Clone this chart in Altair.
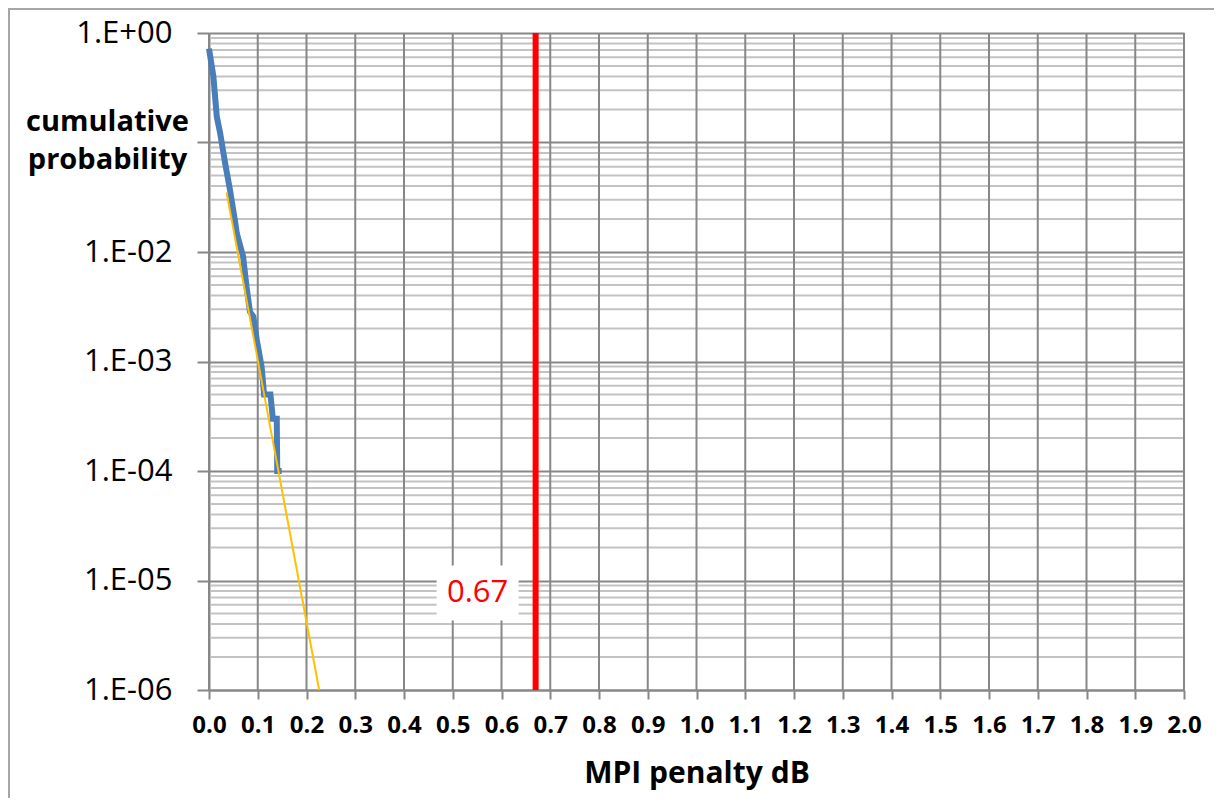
import altair as alt
import pandas as pd

# measured cumulative probability (blue)
blue_x = [0.000, 0.009, 0.016, 0.023, 0.033, 0.043, 0.053, 0.057, 0.070, 0.077,
          0.084, 0.091, 0.098, 0.108, 0.113, 0.126, 0.131, 0.139, 0.140, 0.149]
blue_y = [0.72, 0.40, 0.172, 0.121, 0.065, 0.037, 0.0196, 0.0148, 0.0091, 0.0048,
          0.00285, 0.00257, 0.00158, 0.00089, 0.0005, 0.0005, 0.0003, 0.0003, 0.0001, 0.0001]

# fitted trend (yellow)
fit_x = [0.036, 0.226]
fit_y = [0.035, 1e-6]

# limit marker
limit_x = 0.67
limit_label = "0.67"
label_y = 7.7e-6

x_ticks = [round(i * 0.1, 1) for i in range(21)]
y_major = [1e-6, 1e-5, 1e-4, 1e-3, 1e-2, 1e-1, 1.0]
y_minor = [m * 10.0 ** e for e in range(-6, 0) for m in range(2, 10)]

GRID_DARK = "#878787"
GRID_LIGHT = "#c3c3c3"
FONT = "Open Sans"

xscale = alt.Scale(domain=[0, 2], nice=False, zero=False)
yscale = alt.Scale(type="log", domain=[1e-6, 1], nice=False)

xaxis = alt.Axis(
    values=x_ticks, format=".1f", grid=False,
    domainColor=GRID_DARK, domainWidth=2,
    tickColor=GRID_DARK, tickWidth=2, tickSize=9,
    labelFont=FONT, labelFontWeight="bold", labelFontSize=24, labelColor="black",
    labelPadding=14, labelFlush=False, labelOverlap=False,
    title="MPI penalty dB", titleFont=FONT, titleFontWeight="bold",
    titleFontSize=30, titleColor="black", titlePadding=21,
)
yaxis = alt.Axis(
    values=y_major,
    labelExpr="round(log(datum.value)/LN10) == -1 ? '' : '1.E' + (datum.value >= 1 ? '+' : '-') + format(abs(round(log(datum.value)/LN10)), '02d')",
    grid=True, gridColor=GRID_DARK, gridWidth=2,
    domainColor=GRID_DARK, domainWidth=2,
    tickColor=GRID_DARK, tickWidth=2, tickSize=12,
    labelFont=FONT, labelFontSize=31, labelColor="black",
    labelPadding=25, labelBaseline="middle", labelFlush=False, labelOverlap=False,
    title=["cumulative", "probability"], titleFont=FONT, titleFontWeight="bold",
    titleFontSize=29, titleColor="black", titleAngle=0, titleAlign="center",
    titleBaseline="alphabetic", titleX=-102, titleY=97, titleLineHeight=38,
)

X = alt.X("x:Q", scale=xscale, axis=xaxis)
Y = alt.Y("y:Q", scale=yscale, axis=yaxis)

df_blue = pd.DataFrame({"x": blue_x, "y": blue_y})
df_fit = pd.DataFrame({"x": fit_x, "y": fit_y})
df_minor = pd.DataFrame({"y": y_minor})
df_xt = pd.DataFrame({"x": x_ticks})
df_lim = pd.DataFrame({"x": [limit_x], "y": [label_y], "t": [limit_label]})

minor = alt.Chart(df_minor).mark_rule(color=GRID_LIGHT, strokeWidth=2).encode(y=Y)
vert = alt.Chart(df_xt).mark_rule(color=GRID_DARK, strokeWidth=2).encode(x=X)

blue = alt.Chart(df_blue).mark_line(color="#4A7EBB", strokeWidth=6).encode(
    x=X, y=Y, order=alt.Order("idx:Q"),
).transform_window(idx="row_number()")

fit = alt.Chart(df_fit).mark_line(color="#FFC000", strokeWidth=2).encode(x=X, y=Y)

red = alt.Chart(df_lim).mark_rule(color="#FF0000", strokeWidth=6).encode(x=X)

box = alt.Chart(df_lim).mark_point(
    shape="M-1.49,-1L1.49,-1L1.49,1L-1.49,1Z", filled=True, fill="white",
    opacity=1, strokeWidth=0, size=3025, xOffset=-58,
).encode(x=X, y=Y)

label = alt.Chart(df_lim).mark_text(
    color="#FF0000", font=FONT, fontSize=31, dx=-58, baseline="middle", align="center"
).encode(x=X, y=Y, text="t:N")

border_top = alt.Chart(df_lim).mark_rule(color="#a6a6a6", strokeWidth=2).encode(
    x=alt.value(-201), x2=alt.value(1010), y=alt.value(-24)
)
border_left = alt.Chart(df_lim).mark_rule(color="#a6a6a6", strokeWidth=2).encode(
    x=alt.value(-200), y=alt.value(-25), y2=alt.value(800)
)

chart = alt.layer(
    minor, vert, blue, fit, red, box, label, border_top, border_left
).properties(
    width=975, height=657,
    autosize=alt.AutoSizeParams(type="none"),
    padding={"left": 201, "top": 25, "right": 30, "bottom": 108},
).configure_view(stroke=None)

chart.save("out.html", embed_options={"renderer": "svg", "actions": False})
